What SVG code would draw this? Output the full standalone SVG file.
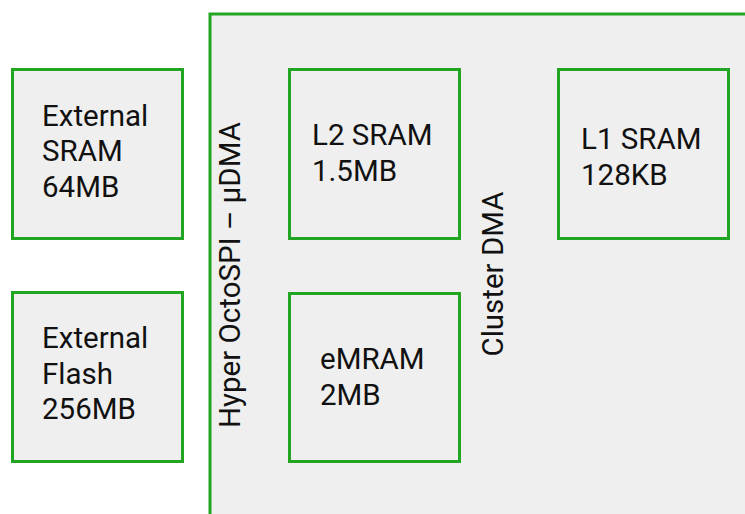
<svg xmlns="http://www.w3.org/2000/svg" width="745" height="514" viewBox="0 0 745 514">
  <style>
    .box { fill: #efefef; stroke: #22a522; stroke-width: 3; }
    .lbl { font-family: Roboto, "Liberation Sans", sans-serif; font-size: 29.5px; fill: #111; }
    .mid { text-anchor: middle; }
  </style>
  <rect width="745" height="514" fill="#ffffff"/>

  <!-- SoC region, continues past the right and bottom edges -->
  <g id="soc">
    <rect class="box" x="210" y="14" width="560" height="530"/>
    <text class="lbl mid" transform="translate(240,275) rotate(-90)">Hyper OctoSPI – µDMA</text>
    <text class="lbl mid" transform="translate(503,274) rotate(-90)">Cluster DMA</text>
  </g>

  <g id="ext-sram">
    <rect class="box" x="12.5" y="69.5" width="170" height="169"/>
    <text class="lbl"><tspan x="42" y="126">External</tspan><tspan x="42" y="161">SRAM</tspan><tspan x="42" y="197">64MB</tspan></text>
  </g>

  <g id="ext-flash">
    <rect class="box" x="12.5" y="292.5" width="170" height="169"/>
    <text class="lbl"><tspan x="42" y="348">External</tspan><tspan x="42" y="384">Flash</tspan><tspan x="42" y="419">256MB</tspan></text>
  </g>

  <g id="l2-sram">
    <rect class="box" x="289.5" y="69.5" width="170" height="169"/>
    <text class="lbl"><tspan x="312" y="145">L2 SRAM</tspan><tspan x="312" y="181">1.5MB</tspan></text>
  </g>

  <g id="emram">
    <rect class="box" x="289.5" y="293.5" width="170" height="168"/>
    <text class="lbl"><tspan x="320" y="369">eMRAM</tspan><tspan x="320" y="405">2MB</tspan></text>
  </g>

  <g id="l1-sram">
    <rect class="box" x="558.5" y="69.5" width="170" height="169"/>
    <text class="lbl"><tspan x="581" y="149">L1 SRAM</tspan><tspan x="581" y="185">128KB</tspan></text>
  </g>

  <g id="connectors"></g>
</svg>
